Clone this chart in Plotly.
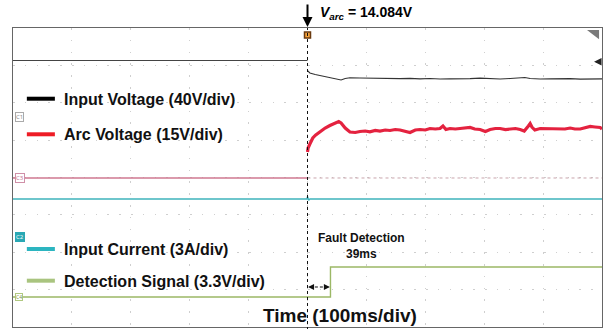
import plotly.graph_objects as go

# ---------------- data (time in ms, amplitude in screen divisions) ----------------
t_range = [-500, 500]
trigger_ms = 0
fault_detect_ms = 39

iv_pre_t = [-500, 0]
iv_pre = [7.13, 7.13]
iv_post_t = [0, 1, 4, 13, 21, 38, 52, 57, 64, 72, 89, 106, 123, 140, 157, 174, 191, 208,
             225, 242, 259, 276, 293, 310, 327, 344, 361, 369, 378, 395, 412, 429, 446,
             463, 480, 497, 500]
iv_post = [6.86, 6.836, 6.796, 6.756, 6.729, 6.689, 6.622, 6.609, 6.649, 6.668, 6.662,
           6.654, 6.649, 6.657, 6.646, 6.654, 6.641, 6.649, 6.635, 6.641, 6.635, 6.646,
           6.657, 6.641, 6.635, 6.649, 6.662, 6.676, 6.649, 6.635, 6.641, 6.649, 6.646,
           6.630, 6.643, 6.638, 6.640]

arc_zero = 3.987
arc_pre_t = [-500, 0]
arc_pre = [arc_zero, arc_zero]
arc_post_t = [0, 1, 4, 9, 14, 21, 30, 38, 47, 53, 57, 64, 72, 81, 89, 98, 106, 115, 123,
              132, 140, 149, 157, 166, 174, 183, 191, 200, 208, 217, 225, 230, 235, 242,
              251, 259, 268, 276, 284, 293, 302, 310, 319, 327, 336, 344, 353, 361, 368,
              375, 378, 381, 386, 395, 403, 412, 420, 429, 437, 446, 454, 463, 471, 480,
              488, 497, 500]
arc_post = [4.682, 4.789, 4.896, 5.057, 5.137, 5.231, 5.324, 5.391, 5.445, 5.498, 5.458,
            5.324, 5.217, 5.204, 5.231, 5.244, 5.223, 5.258, 5.244, 5.271, 5.258, 5.284,
            5.271, 5.244, 5.204, 5.271, 5.284, 5.271, 5.311, 5.298, 5.311, 5.378, 5.284,
            5.311, 5.298, 5.311, 5.324, 5.338, 5.298, 5.284, 5.231, 5.284, 5.311, 5.311,
            5.284, 5.298, 5.311, 5.284, 5.244, 5.378, 5.445, 5.351, 5.271, 5.311, 5.311,
            5.311, 5.298, 5.311, 5.298, 5.324, 5.298, 5.298, 5.324, 5.365, 5.351, 5.338,
            5.298]

ic_t = [-500, -1, 0, 2, 4, 500]
ic = [3.425, 3.425, 3.49, 3.39, 3.425, 3.425]

ds_t = [-500, fault_detect_ms, fault_detect_ms, 500]
ds = [0.803, 0.803, 1.605, 1.605]

legend_labels = ["Input Voltage (40V/div)", "Arc Voltage (15V/div)",
                 "Input Current (3A/div)", "Detection Signal (3.3V/div)"]
legend_colors = ["#000000", "#ee1c25", "#2cb5c0", "#a9c47f"]
legend_y = [6.108, 5.156, 2.087, 1.239]

channel_tags = ["C1", "C3", "C2", "C4"]
channel_tag_y = [5.619, 3.987, 2.408, 0.803]

varc_value = "14.084V"

# ---------------- figure ----------------
fig = go.Figure()

fig.add_trace(go.Scatter(x=iv_pre_t, y=iv_pre, mode="lines",
                         line=dict(color="#444444", width=1.2), showlegend=False))
fig.add_trace(go.Scatter(x=iv_post_t, y=iv_post, mode="lines",
                         line=dict(color="#333333", width=1.2), showlegend=False))
fig.add_trace(go.Scatter(x=arc_pre_t, y=arc_pre, mode="lines",
                         line=dict(color="#cf7890", width=1.3), showlegend=False))
fig.add_trace(go.Scatter(x=[0, 500], y=[arc_zero, arc_zero], mode="lines",
                         line=dict(color="#c9a4ac", width=1, dash="dot"), showlegend=False))
fig.add_trace(go.Scatter(x=arc_post_t, y=arc_post, mode="lines",
                         line=dict(color="#e4223f", width=3.2), showlegend=False))
fig.add_trace(go.Scatter(x=ic_t, y=ic, mode="lines",
                         line=dict(color="#3fb4bc", width=1.4), showlegend=False))
fig.add_trace(go.Scatter(x=ds_t, y=ds, mode="lines",
                         line=dict(color="#9cb866", width=1.4), showlegend=False))
# trigger marker
fig.add_trace(go.Scatter(x=[trigger_ms], y=[7.81], mode="markers",
                         marker=dict(symbol="square", size=6, color="#f3a03a",
                                     line=dict(color="#6a3a10", width=1.5)),
                         showlegend=False))

shapes = []
annotations = []

# trigger dotted line
shapes.append(dict(type="line", xref="x", yref="paper", x0=trigger_ms, x1=trigger_ms,
                   y0=-0.01, y1=1, line=dict(color="#111111", width=1, dash="dot")))

# legend line swatches + labels
for lab, col, yy in zip(legend_labels, legend_colors, legend_y):
    shapes.append(dict(type="line", xref="x", yref="y", x0=-476.5, x1=-428.9, y0=yy, y1=yy,
                       line=dict(color=col, width=4)))
    annotations.append(dict(x=-416.8, y=yy - 0.01, xref="x", yref="y", text="<b>%s</b>" % lab,
                            showarrow=False, xanchor="left", yanchor="middle",
                            font=dict(family="Liberation Sans, Arial", size=16, color="#111111")))

# channel tags
tag_styles = [
    dict(font=dict(size=6, color="#888888"), bordercolor="#aaaaaa", bgcolor="#ffffff"),
    dict(font=dict(size=6, color="#c07090"), bordercolor="#d090a8", bgcolor="#ffffff"),
    dict(font=dict(size=6, color="#ffffff"), bordercolor="#2aa8b4", bgcolor="#2aa8b4"),
    dict(font=dict(size=5, color="#7a9040"), bordercolor="#b0c880", bgcolor="#ffffff"),
]
for tag, yy, st in zip(channel_tags, channel_tag_y, tag_styles):
    annotations.append(dict(x=0.003, y=yy, xref="paper", yref="y", text=tag, showarrow=False,
                            xanchor="left", yanchor="middle", borderwidth=1, borderpad=0,
                            **st))

# time axis label
annotations.append(dict(x=55, y=0.30, xref="x", yref="y", text="<b>Time (100ms/div)</b>",
                        showarrow=False, xanchor="center", yanchor="middle",
                        font=dict(family="Liberation Sans, Arial", size=19, color="#111111")))

# fault detection text
annotations.append(dict(x=92, y=2.39, xref="x", yref="y", text="<b>Fault Detection</b>",
                        showarrow=False, xanchor="center", yanchor="middle",
                        font=dict(family="Liberation Sans, Arial", size=12, color="#111111")))
annotations.append(dict(x=92, y=1.96, xref="x", yref="y", text="<b>%dms</b>" % fault_detect_ms,
                        showarrow=False, xanchor="center", yanchor="middle",
                        font=dict(family="Liberation Sans, Arial", size=12, color="#111111")))

# double arrow for detection delay
shapes.append(dict(type="line", xref="x", yref="y", x0=trigger_ms + 4, x1=fault_detect_ms - 4,
                   y0=1.07, y1=1.07, line=dict(color="#111111", width=1.2, dash="3px,2px")))
annotations.append(dict(x=trigger_ms + 1, y=1.07, xref="x", yref="y", ax=7, ay=0, text="",
                        showarrow=True, arrowhead=2, arrowsize=1, arrowwidth=1.2,
                        arrowcolor="#111111"))
annotations.append(dict(x=fault_detect_ms - 1, y=1.07, xref="x", yref="y", ax=-7, ay=0, text="",
                        showarrow=True, arrowhead=2, arrowsize=1, arrowwidth=1.2,
                        arrowcolor="#111111"))

# V_arc annotation and trigger arrow
annotations.append(dict(x=trigger_ms, y=1.0035, xref="x", yref="paper", ax=0, ay=-24, text="",
                        showarrow=True, arrowhead=2, arrowsize=1, arrowwidth=2,
                        arrowcolor="#000000"))
annotations.append(dict(x=17.5, y=1.05, xref="x", yref="paper",
                        text="<b><i>V</i><sub><i>arc</i></sub> = %s</b>" % varc_value,
                        showarrow=False, xanchor="left", yanchor="middle",
                        font=dict(family="Liberation Sans, Arial", size=14, color="#000000")))

# right-side offset arrow
annotations.append(dict(x=486.5, y=7.098, xref="x", yref="y", ax=8, ay=0, text="",
                        showarrow=True, arrowhead=2, arrowsize=1, arrowwidth=1.5,
                        arrowcolor="#222222"))

# corner triangle
shapes.append(dict(type="path", xref="x", yref="y",
                   path="M 474.5,7.946 L 495,7.946 L 495,7.70 Z",
                   fillcolor="#7a7a7a", line=dict(width=0)))

fig.update_layout(
    width=607, height=329,
    margin=dict(l=13, r=5, t=28, b=2),
    paper_bgcolor="white", plot_bgcolor="white",
    shapes=shapes, annotations=annotations,
    showlegend=False,
)
fig.update_xaxes(range=t_range, showticklabels=False, ticks="", dtick=100, tick0=-500,
                 showgrid=True, gridcolor="#cfcfcf", gridwidth=1, griddash="1.5px,10.3px",
                 zeroline=False, showline=True, linecolor="#666666", linewidth=1, mirror=True,
                 fixedrange=True)
fig.update_yaxes(range=[0, 8], showticklabels=False, ticks="", dtick=1, tick0=0,
                 showgrid=True, gridcolor="#cfcfcf", gridwidth=1, griddash="1.5px,10.3px",
                 zeroline=False, showline=True, linecolor="#666666", linewidth=1, mirror=True,
                 fixedrange=True)

fig.write_html("out.html", config={"displayModeBar": False},
               post_script="document.body.style.margin='0';document.body.style.overflow='hidden';")
